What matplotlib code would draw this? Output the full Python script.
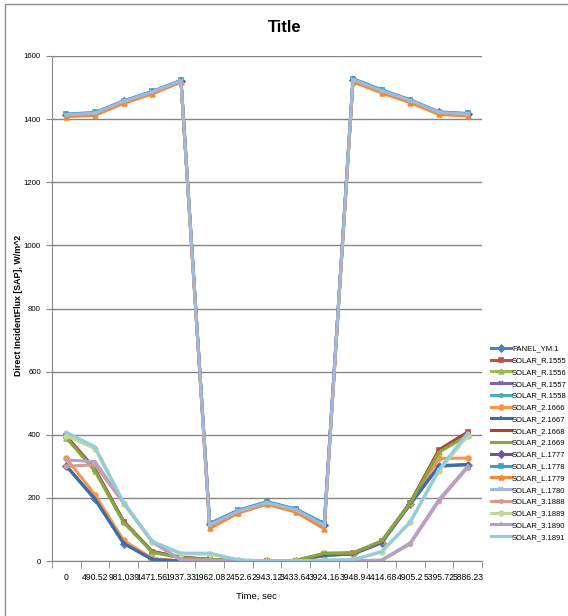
import matplotlib
matplotlib.use('Agg')
import matplotlib.pyplot as plt
from matplotlib.patches import Rectangle

# categories along the time axis (Excel category axis)
times = ['0', '490.52', '981.039', '1471.56', '1937.33', '1962.08', '2452.6', '2943.12',
         '3433.64', '3924.16', '3948.9', '4414.68', '4905.2', '5395.72', '5886.23']

series_names = ['PANEL_YM.1', 'SOLAR_R.1555', 'SOLAR_R.1556', 'SOLAR_R.1557', 'SOLAR_R.1558',
                'SOLAR_2.1666', 'SOLAR_2.1667', 'SOLAR_2.1668', 'SOLAR_2.1669',
                'SOLAR_L.1777', 'SOLAR_L.1778', 'SOLAR_L.1779', 'SOLAR_L.1780',
                'SOLAR_3.1888', 'SOLAR_3.1889', 'SOLAR_3.1890', 'SOLAR_3.1891']

panel_ym1 = [300, 195, 55, 5, 0, 0, 0, 0, 0, 18, 22, 58, 180, 300, 305]
r1555 = [395, 290, 125, 30, 12, 5, 0, 0, 0, 22, 25, 62, 185, 352, 408]
r1556 = [390, 285, 122, 28, 10, 5, 2, 0, 2, 24, 25, 63, 183, 345, 398]
r1557 = [1414, 1419, 1456, 1486, 1521, 116, 159, 186, 163, 115, 1525, 1490, 1459, 1421, 1416]
r1558 = [1415, 1420, 1457, 1487, 1522, 118, 160, 187, 164, 117, 1527, 1492, 1460, 1422, 1417]
s1666 = [325, 210, 65, 8, 0, 0, 0, 0, 0, 25, 26, 62, 185, 325, 326]
s1667 = [302, 197, 56, 5, 0, 0, 0, 0, 0, 18, 22, 58, 181, 302, 306]
s1668 = [396, 291, 126, 30, 12, 5, 0, 0, 0, 22, 25, 62, 185, 352, 408]
s1669 = [391, 286, 123, 28, 10, 5, 2, 0, 2, 24, 25, 63, 183, 346, 398]
l1777 = [1414, 1419, 1456, 1486, 1521, 116, 159, 186, 163, 115, 1525, 1490, 1459, 1421, 1416]
l1778 = [1416, 1421, 1458, 1488, 1523, 119, 161, 188, 165, 119, 1528, 1493, 1461, 1423, 1418]
l1779 = [1408, 1412, 1450, 1480, 1517, 103, 152, 180, 155, 102, 1518, 1483, 1452, 1415, 1410]
l1780 = [1414, 1419, 1456, 1486, 1521, 114, 158, 185, 162, 113, 1525, 1490, 1459, 1421, 1416]
s1888 = [300, 305, 183, 60, 3, 2, 0, 0, 0, 0, 0, 2, 54, 190, 296]
s1889 = [396, 356, 181, 60, 22, 22, 3, 0, 0, 3, 4, 28, 122, 286, 396]
s1890 = [320, 315, 185, 62, 3, 2, 0, 0, 0, 0, 0, 3, 58, 195, 300]
s1891 = [408, 362, 186, 62, 25, 25, 4, 0, 0, 3, 4, 30, 125, 290, 406]

data = [panel_ym1, r1555, r1556, r1557, r1558, s1666, s1667, s1668, s1669,
        l1777, l1778, l1779, l1780, s1888, s1889, s1890, s1891]

# Excel 2007 palette: base, darker, lighter
colors = ['#4F81BD', '#C0504D', '#9BBB59', '#8064A2', '#4BACC6', '#F79646',
          '#3F6CA8', '#B03F3B', '#86A844', '#7052A0', '#3FA2BD', '#F28A35',
          '#A5B7DA', '#DA9895', '#C3D69B', '#B3A2C7', '#93CDDD']
asterisk = (6, 2, 0)
markers = ['D', 's', '^', 'x', asterisk, 'o', '+', '_', '_',
           'D', 's', '^', 'x', asterisk, 'o', '+', '_']

plt.rcParams['font.family'] = ['Liberation Sans Narrow', 'Liberation Sans', 'DejaVu Sans']

fig = plt.figure(figsize=(5.68, 6.16), dpi=100)
ax = fig.add_axes([52 / 568, 55 / 616, 430 / 568, 505 / 616])

x = list(range(len(times)))
for name, vals, c, m in zip(series_names, data, colors, markers):
    ax.plot(x, vals, color=c, marker=m, markersize=3.5, markeredgewidth=1.2,
            linewidth=2.2, label=name)

ax.set_xlim(-0.5, len(times) - 0.5)
ax.set_ylim(0, 1600)
ax.set_yticks(range(0, 1601, 200))
ax.yaxis.grid(True, color='#868686', linewidth=1)
ax.set_axisbelow(True)

ax.set_xticks(x)
ax.set_xticklabels(times, fontsize=6.2)
ax.set_xticks([i + 0.5 for i in range(-1, len(times))], minor=True)
ax.tick_params(axis='x', which='major', length=0, pad=9)
ax.tick_params(axis='x', which='minor', length=5, color='#868686')
ax.tick_params(axis='y', length=4, color='#868686', labelsize=5.6, pad=4)

for s in ['top', 'right']:
    ax.spines[s].set_visible(False)
ax.spines['left'].set_color('#868686')
ax.spines['bottom'].set_color('#868686')

fig.text(19 / 568, 1 - 305 / 616, 'Direct IncidentFlux [SAP], W/m^2', fontsize=6.4,
         fontweight='bold', rotation=90, ha='center', va='center')
fig.text(256 / 568, 1 - 596 / 616, 'Time, sec', fontsize=6.8, ha='center', va='center')
fig.text(285 / 568, 1 - 28 / 616, 'Title', fontsize=12, fontweight='bold', ha='center', va='center')

leg = fig.legend(loc='center left', bbox_to_anchor=(491 / 568, 1 - 443 / 616), frameon=False,
                 fontsize=5.5, labelspacing=0.58, handlelength=2.6, handletextpad=0.15,
                 borderaxespad=0, borderpad=0)

# chart area border
fig.patches.append(Rectangle((5 / 568, -0.1), 1.2, 1.1 - 4 / 616, transform=fig.transFigure,
                             fill=False, edgecolor='#8c8c8c', linewidth=1))

fig.savefig('out.png', dpi=100)
